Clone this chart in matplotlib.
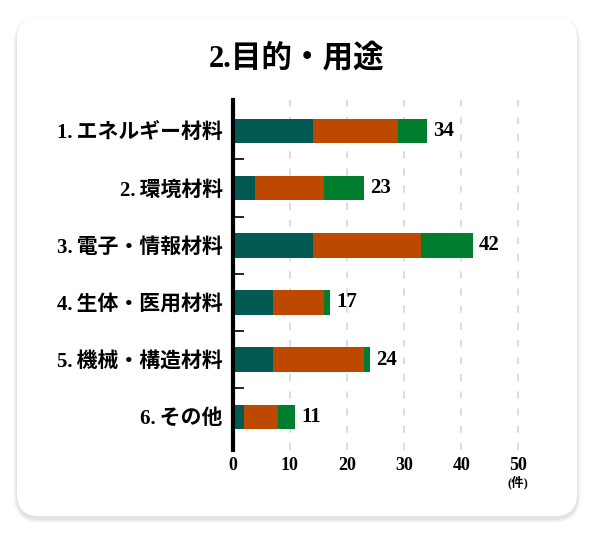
#!/usr/bin/env python3

import numpy as np
import matplotlib
matplotlib.use('Agg')
import matplotlib.pyplot as plt
from matplotlib.patches import FancyBboxPatch

W, H = 594, 533
DPI = 100

JP = ['Liberation Serif', 'Noto Sans CJK JP']

title = '2.目的・用途'
categories = ['1.\u2009エネルギー材料', '2.\u2009環境材料', '3.\u2009電子・情報材料',
              '4.\u2009生体・医用材料', '5.\u2009機械・構造材料', '6.\u2009その他']
seg1 = [14, 4, 14, 7, 7, 2]
seg2 = [15, 12, 19, 9, 16, 6]
seg3 = [5, 7, 9, 1, 1, 3]
totals = [34, 23, 42, 17, 24, 11]
xticks = [0, 10, 20, 30, 40, 50]
unit = '(件)'

colors = ['#035a52', '#bd4900', '#007d2d']


def px(x, y):
    # pixel coords (top-left origin) -> figure fraction
    return x / W, 1 - y / H


fig = plt.figure(figsize=(W / DPI, H / DPI), dpi=DPI)
fig.patch.set_facecolor('white')

# card with a soft shadow (display coords, origin bottom-left)
for i, a in enumerate([0.02, 0.025, 0.03, 0.035]):
    g = 5 - i
    sh = FancyBboxPatch((17 - g + 1, H - 516 - g - 2), 560 + 2 * g - 2, 499 + 2 * g - 2,
                        boxstyle='round,pad=0,rounding_size=%d' % (22 + g),
                        transform=None, facecolor='black', edgecolor='none',
                        alpha=a, zorder=-3)
    fig.patches.append(sh)
card = FancyBboxPatch((17, H - 516), 560, 499,
                      boxstyle='round,pad=0,rounding_size=22',
                      transform=None, facecolor='white', edgecolor='none', zorder=-2)
fig.patches.append(card)

fig.text(*px(297, 58), title, ha='center', va='center', fontsize=22,
         fontweight='bold', family=JP)

left, right = px(232.5, 0)[0], px(524.2, 0)[0]
top, bottom = px(0, 100)[1], px(0, 450)[1]
ax = fig.add_axes([left, bottom, right - left, top - bottom])
ax.set_facecolor('none')
ax.set_zorder(2)

y = np.arange(len(categories))
h = 0.43
ax.barh(y, seg1, height=h, color=colors[0], zorder=3)
ax.barh(y, seg2, height=h, left=seg1, color=colors[1], zorder=3)
ax.barh(y, seg3, height=h, left=np.add(seg1, seg2), color=colors[2], zorder=3)

for yi, t in zip(y, totals):
    ax.text(t + 1.1, yi, str(t), va='center', ha='left', fontsize=15,
            fontweight='bold', family='Liberation Serif')

ax.set_xlim(0, 51)
ax.set_ylim(5.58, -0.54)

for xv in xticks[1:]:
    ax.axvline(xv, color='#d3dce1', linestyle=(0, (4, 5.5)), linewidth=1.3, zorder=1)

ax.set_xticks(xticks)
ax.set_xticklabels([str(v) for v in xticks], fontsize=13, fontweight='bold',
                   family='Liberation Serif')
ax.tick_params(axis='x', length=0, pad=5)

ax.set_yticks(y)
ax.set_yticklabels(categories, fontsize=15, fontweight='bold', family=JP)
ax.tick_params(axis='y', which='major', length=0, pad=7)
ax.set_yticks(y[:-1] + 0.5, minor=True)
ax.tick_params(axis='y', which='minor', direction='in', length=8, width=1.2,
               color='black')

for s in ('top', 'right', 'bottom'):
    ax.spines[s].set_visible(False)
ax.spines['left'].set_linewidth(3)
ax.spines['left'].set_zorder(4)

fig.text(*px(518, 482), unit, ha='center', va='center', fontsize=9,
         fontweight='bold', family=JP)

fig.savefig('out.png', dpi=DPI)
